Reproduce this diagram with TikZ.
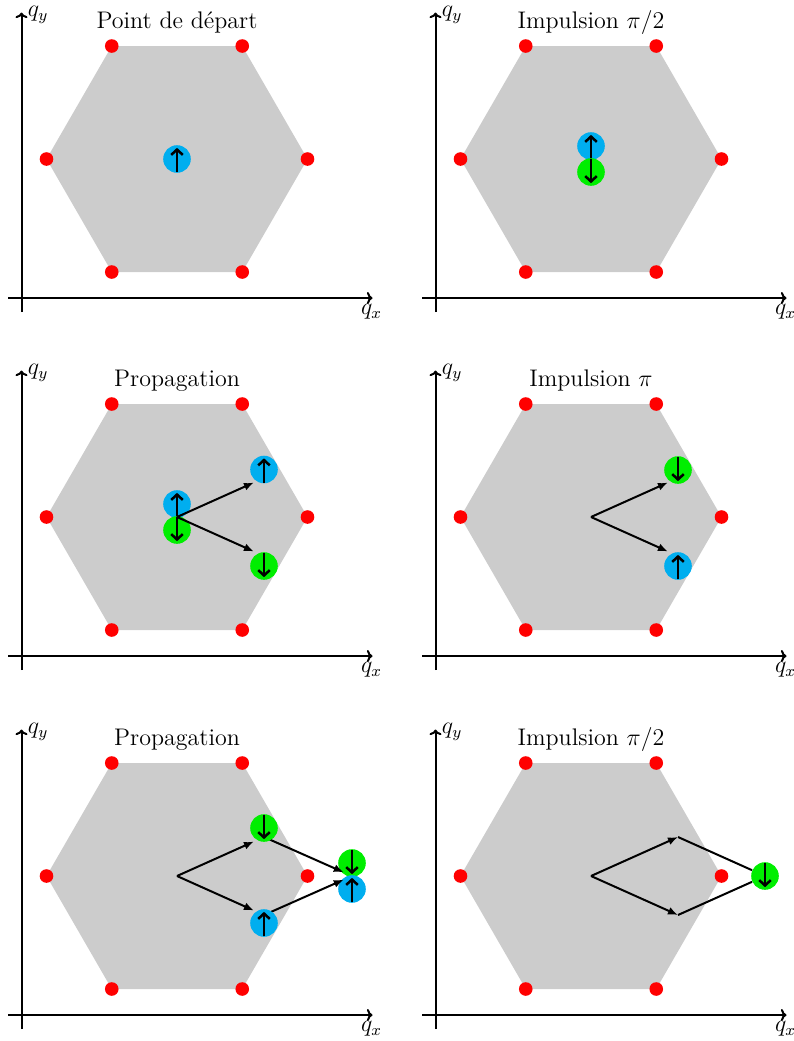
\documentclass[tikz,border=0pt]{standalone}
\usetikzlibrary{arrows.meta}
\definecolor{spinblue}{RGB}{0,174,239}
\definecolor{spingreen}{RGB}{0,238,0}
\definecolor{hexgray}{RGB}{204,204,204}
\tikzset{
  axis/.style={line width=1pt,-{To[length=2.8pt,width=6pt]}},
  hexfill/.style={fill=hexgray},
  vdot/.style={circle,fill=red,minimum size=6.8pt,inner sep=0pt},
  spinbase/.style={circle,minimum size=13.8pt,inner sep=0pt},
  spinarrow/.style={line width=1.25pt,-{Straight Barb[length=2.7pt,width=5.8pt]}},
  spinup/.style={spinbase,fill=spinblue,path picture={\draw[spinarrow] ([yshift=-6.6pt]path picture bounding box.center) -- ([yshift=5.6pt]path picture bounding box.center);}},
  spindown/.style={spinbase,fill=spingreen,path picture={\draw[spinarrow] ([yshift=6.6pt]path picture bounding box.center) -- ([yshift=-5.6pt]path picture bounding box.center);}},
  move/.style={line width=1pt,-{Latex[length=5pt,width=4pt]}},
  link/.style={line width=1pt},
  ttl/.style={font=\fontsize{12}{14}\selectfont},
  axlbl/.style={font=\large},
}
\newcommand\mypanel[2]{%
  \coordinate (#1xa) at (8,298); \coordinate (#1xb) at (372.5,298);
  \coordinate (#1ya) at (21.5,312); \coordinate (#1yb) at (21.5,12.5);
  \fill[hexfill] (307.5,159) -- (242.25,46) -- (111.75,46) -- (46.5,159) -- (111.75,272) -- (242.25,272) -- cycle;
  \draw[axis] (#1xa) -- (#1xb);
  \draw[axis] (#1ya) -- (#1yb);
  \node[axlbl,below,inner sep=3pt,xshift=-0.5pt] (#1qx) at (#1xb) {$q_x$};
  \node[axlbl,right,inner sep=3pt,yshift=-1.2pt] (#1qy) at (#1yb) {$q_y$};
  \node[vdot] (#1v1) at (307.5,159) {};
  \node[vdot] (#1v2) at (242.25,46) {};
  \node[vdot] (#1v3) at (111.75,46) {};
  \node[vdot] (#1v4) at (46.5,159) {};
  \node[vdot] (#1v5) at (111.75,272) {};
  \node[vdot] (#1v6) at (242.25,272) {};
  \node[ttl] (#1t) at (177,22.5) {#2};
  \coordinate (#1c) at (177,159);
  \coordinate (#1vu) at (264,120);
  \coordinate (#1vd) at (264,198);
}
\begin{document}
\begin{tikzpicture}[x=0.5pt,y=-0.5pt]
\useasboundingbox (0,0) rectangle (794,1041);
% panel 1
\begin{scope}
  \mypanel{p1}{Point de départ}
  \node[spinup] (p1a) at (177,159) {};
\end{scope}
% panel 2
\begin{scope}[shift={(414,0)}]
  \mypanel{p2}{Impulsion $\pi/2$}
  \node[spinup] (p2a) at (177,146) {};
  \node[spindown] (p2b) at (177,172) {};
\end{scope}
% panel 3
\begin{scope}[shift={(0,358)}]
  \mypanel{p3}{Propagation}
  \node[spinup] (p3a) at (177,146) {};
  \node[spindown] (p3b) at (177,172) {};
  \node[spinup] (p3u) at (264,111.5) {};
  \node[spindown] (p3d) at (264,208) {};
  \draw[move,shorten >=5.5pt] (p3c) -- (p3vu);
  \draw[move,shorten >=5.5pt] (p3c) -- (p3vd);
\end{scope}
% panel 4
\begin{scope}[shift={(414,358)}]
  \mypanel{p4}{Impulsion $\pi$}
  \node[spindown] (p4u) at (264,112) {};
  \node[spinup] (p4d) at (264,208) {};
  \draw[move,shorten >=5.5pt] (p4c) -- (p4vu);
  \draw[move,shorten >=5.5pt] (p4c) -- (p4vd);
\end{scope}
% panel 5
\begin{scope}[shift={(0,717)}]
  \mypanel{p5}{Propagation}
  \coordinate (p5r) at (352,159);
  \node[spindown] (p5ru) at (352,146) {};
  \node[spinup] (p5rd) at (352,172) {};
  \draw[move,shorten >=4.5pt] (p5vu) -- (p5r);
  \draw[move,shorten >=4.5pt] (p5vd) -- (p5r);
  \node[spindown] (p5u) at (264,111) {};
  \node[spinup] (p5d) at (264,206) {};
  \draw[move,shorten >=5.5pt] (p5c) -- (p5vu);
  \draw[move,shorten >=5.5pt] (p5c) -- (p5vd);
\end{scope}
% panel 6
\begin{scope}[shift={(414,717)}]
  \mypanel{p6}{Impulsion $\pi/2$}
  \node[spindown] (p6g) at (351,159) {};
  \draw[move] (p6c) -- (p6vu);
  \draw[move] (p6c) -- (p6vd);
  \draw[link] (p6vu) -- (p6g);
  \draw[link] (p6vd) -- (p6g);
\end{scope}
\end{tikzpicture}
\end{document}
